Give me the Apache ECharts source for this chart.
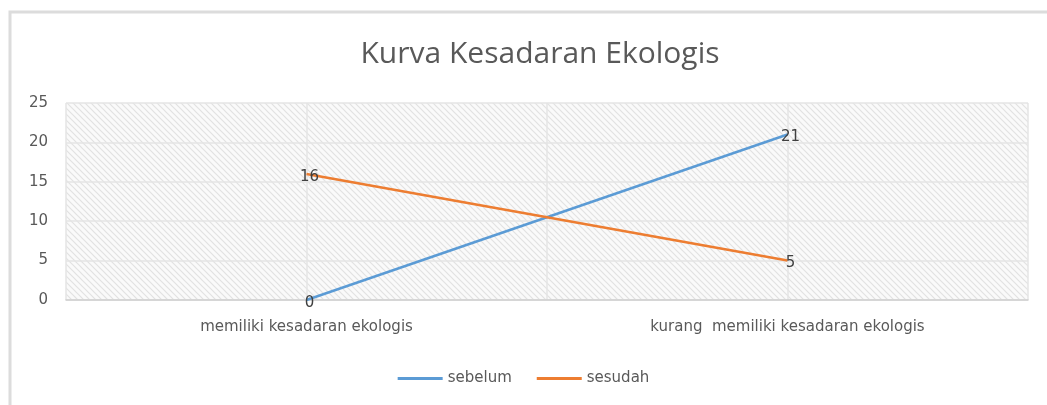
<!DOCTYPE html>
<html>
<head>
<meta charset="utf-8">
<title>Kurva Kesadaran Ekologis</title>
<style>
  html, body { margin: 0; padding: 0; background: #fff; }
  #chart { width: 1047px; height: 405px; }
</style>
</head>
<body>
<div id="chart"></div>
<script src="https://cdn.jsdelivr.net/npm/echarts@6/dist/echarts.min.js"></script>
<script>
// data
var categories = ['memiliki kesadaran ekologis', 'kurang  memiliki kesadaran ekologis'];
var sebelum = [0, 21];
var sesudah = [16, 5];
var legendNames = ['sebelum', 'sesudah'];

// hatch pattern for plot area
function makeHatch() {
  var c = document.createElement('canvas');
  c.width = 6; c.height = 6;
  var ctx = c.getContext('2d');
  ctx.fillStyle = '#fafafa';
  ctx.fillRect(0, 0, 6, 6);
  ctx.strokeStyle = '#e2e2e2';
  ctx.lineWidth = 1.2;
  ctx.beginPath();
  ctx.moveTo(-1, -1); ctx.lineTo(7, 7);
  ctx.moveTo(-4, 2); ctx.lineTo(4, 10);
  ctx.moveTo(2, -4); ctx.lineTo(10, 4);
  ctx.stroke();
  return c;
}

var txt = '#595959';
var font = 'DejaVu Sans';
var lbl = { show: true, position: 'inside', color: '#404040', fontSize: 15, fontFamily: font, offset: [3, 3] };

var chart = echarts.init(document.getElementById('chart'));
chart.setOption({
  animation: false,
  textStyle: { fontFamily: font },
  graphic: [{
    type: 'rect',
    shape: { x: 10, y: 12, width: 1060, height: 420 },
    style: { fill: 'none', stroke: '#dcdcdc', lineWidth: 3 },
    silent: true
  }],
  title: {
    text: 'Kurva Kesadaran Ekologis',
    left: 535, top: 34, textAlign: 'center',
    textStyle: { fontFamily: 'Open Sans', fontSize: 30, fontWeight: 'normal', color: txt }
  },
  legend: {
    data: legendNames,
    bottom: 14, left: 'center',
    itemWidth: 45, itemHeight: 3, itemGap: 25,
    icon: 'rect',
    textStyle: { fontFamily: font, fontSize: 15, color: txt }
  },
  grid: {
    left: 66, right: 19, top: 103, bottom: 105,
    show: true,
    backgroundColor: { image: makeHatch(), repeat: 'repeat' },
    borderWidth: 0
  },
  xAxis: [{
    type: 'category',
    data: categories,
    boundaryGap: true,
    axisLine: { lineStyle: { color: '#d0d0d0', width: 1.5 } },
    axisTick: { show: false },
    axisLabel: { color: txt, fontSize: 15, margin: 20 },
    splitLine: { show: false }
  }, {
    type: 'value',
    min: -0.5, max: 1.5, interval: 0.5,
    show: true,
    position: 'top',
    axisLine: { show: false },
    axisTick: { show: false },
    axisLabel: { show: false },
    splitLine: { show: true, lineStyle: { color: '#e4e4e4', width: 1.5 } }
  }],
  yAxis: {
    type: 'value',
    min: 0, max: 25, interval: 5,
    axisLine: { show: false },
    axisTick: { show: false },
    axisLabel: { color: txt, fontSize: 15, margin: 18 },
    splitLine: { lineStyle: { color: '#e4e4e4', width: 1.5 } }
  },
  series: [{
    name: legendNames[0],
    type: 'line',
    data: sebelum,
    symbol: 'circle',
    symbolSize: 0.1,
    showSymbol: true,
    lineStyle: { color: '#5B9BD5', width: 2.5 },
    itemStyle: { color: '#5B9BD5' },
    label: lbl
  }, {
    name: legendNames[1],
    type: 'line',
    data: sesudah,
    symbol: 'circle',
    symbolSize: 0.1,
    showSymbol: true,
    lineStyle: { color: '#ED7D31', width: 2.5 },
    itemStyle: { color: '#ED7D31' },
    label: lbl
  }]
});
</script>
</body>
</html>
